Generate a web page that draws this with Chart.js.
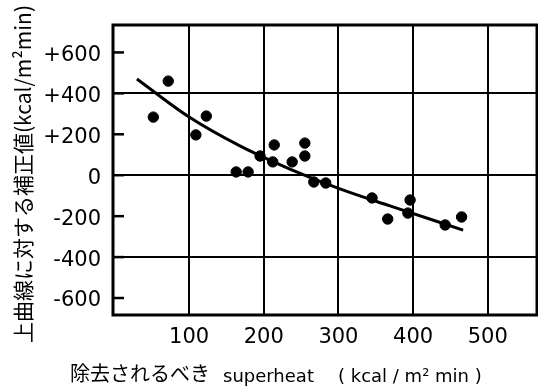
<!DOCTYPE html>
<html>
<head>
<meta charset="utf-8">
<script src="https://cdn.jsdelivr.net/npm/chart.js@4.4.1/dist/chart.umd.min.js"></script>
<style>
  html, body { margin: 0; padding: 0; background: #fff; }
  #wrap { width: 538px; height: 387px; position: relative; }
</style>
</head>
<body>
<div id="wrap"><canvas id="c" width="538" height="387"></canvas></div>
<script>
// ---- data ----
const pointX = [52, 72, 109, 123, 163, 179, 195, 214, 212, 238, 255, 255, 267, 283, 345, 366, 393, 396, 443, 465];
const pointY = [284, 460, 197, 289, 16, 16, 94, 148, 65, 65, 157, 94, -33, -38, -111, -214, -185, -121, -243, -204];
const curveX = [30, 100, 168, 235, 302, 369, 467];
const curveY = [470, 284, 143, 30, -67, -150, -268];
const xTicks = [100, 200, 300, 400, 500];
const yTicks = [-600, -400, -200, 0, 200, 400, 600];
const yGridValues = [-400, 0, 400];
const yTickLabels = ['-600', '-400', '-200', '0', '+200', '+400', '+600'];
const yTitle = '上曲線に対する補正値(kcal/m²min)';
const xTitleParts = ['除去されるべき', 'superheat', '( kcal / m² min )'];

const scatterData = pointX.map((x, i) => ({ x: x, y: pointY[i] }));
const curveData = curveX.map((x, i) => ({ x: x, y: curveY[i] }));

const tickFont = { family: 'DejaVu Sans', size: 21 };

const framePlugin = {
  id: 'frame',
  afterDraw(chart) {
    const { ctx, chartArea: a, scales } = chart;
    ctx.save();
    ctx.strokeStyle = '#000';
    ctx.lineWidth = 3;
    ctx.strokeRect(a.left, a.top, a.right - a.left, a.bottom - a.top);
    // inward tick marks on the y axis
    ctx.lineWidth = 2.5;
    yTicks.forEach(v => {
      const py = scales.y.getPixelForValue(v);
      ctx.beginPath();
      ctx.moveTo(a.left, py);
      ctx.lineTo(a.left + 11, py);
      ctx.stroke();
    });
    // y title (rotated)
    ctx.fillStyle = '#000';
    ctx.save();
    ctx.translate(23, 174);
    ctx.rotate(-Math.PI / 2);
    ctx.font = '21px "Noto Sans CJK JP"';
    ctx.textAlign = 'center';
    ctx.textBaseline = 'middle';
    ctx.fillText(yTitle, 0, 0);
    ctx.restore();
    // x title
    ctx.textAlign = 'left';
    ctx.textBaseline = 'alphabetic';
    ctx.font = '20px "Noto Sans CJK JP"';
    ctx.fillText(xTitleParts[0], 70, 381);
    ctx.font = '18px "DejaVu Sans"';
    ctx.fillText(xTitleParts[1], 223, 382);
    ctx.font = '18px "DejaVu Sans"';
    ctx.fillText(xTitleParts[2], 338, 382);
    ctx.restore();
  }
};

new Chart(document.getElementById('c'), {
  type: 'scatter',
  data: {
    datasets: [
      {
        label: 'data',
        data: scatterData,
        backgroundColor: '#000',
        borderColor: '#000',
        pointRadius: 5.2,
        pointHoverRadius: 5.2
      },
      {
        label: 'curve',
        type: 'line',
        data: curveData,
        borderColor: '#000',
        borderWidth: 3,
        pointRadius: 0,
        fill: false,
        cubicInterpolationMode: 'monotone'
      }
    ]
  },
  options: {
    responsive: false,
    animation: false,
    devicePixelRatio: 1,
    layout: { autoPadding: false, padding: { top: 25, right: 1, left: 0, bottom: 0 } },
    plugins: { legend: { display: false }, tooltip: { enabled: false } },
    scales: {
      x: {
        type: 'linear',
        min: -2,
        max: 566,
        afterFit(s) { s.height = 72; s.paddingLeft = 0; s.paddingRight = 0; },
        afterBuildTicks(s) { s.ticks = xTicks.map(v => ({ value: v })); },
        grid: { color: '#000', lineWidth: 2, drawTicks: false },
        border: { display: false },
        ticks: { color: '#000', font: tickFont, padding: 10, maxRotation: 0 }
      },
      y: {
        type: 'linear',
        min: -683,
        max: 734,
        afterFit(s) { s.width = 113; s.paddingTop = 0; s.paddingBottom = 0; },
        afterBuildTicks(s) { s.ticks = yTicks.map(v => ({ value: v })); },
        grid: {
          drawTicks: false,
          lineWidth: 2,
          color: c => (c.tick && yGridValues.includes(c.tick.value)) ? '#000' : 'rgba(0,0,0,0)'
        },
        border: { display: false },
        ticks: {
          color: '#000',
          font: tickFont,
          padding: 12,
          labelOffset: 3,
          callback: v => yTickLabels[yTicks.indexOf(v)]
        }
      }
    }
  },
  plugins: [framePlugin]
});
</script>
</body>
</html>
